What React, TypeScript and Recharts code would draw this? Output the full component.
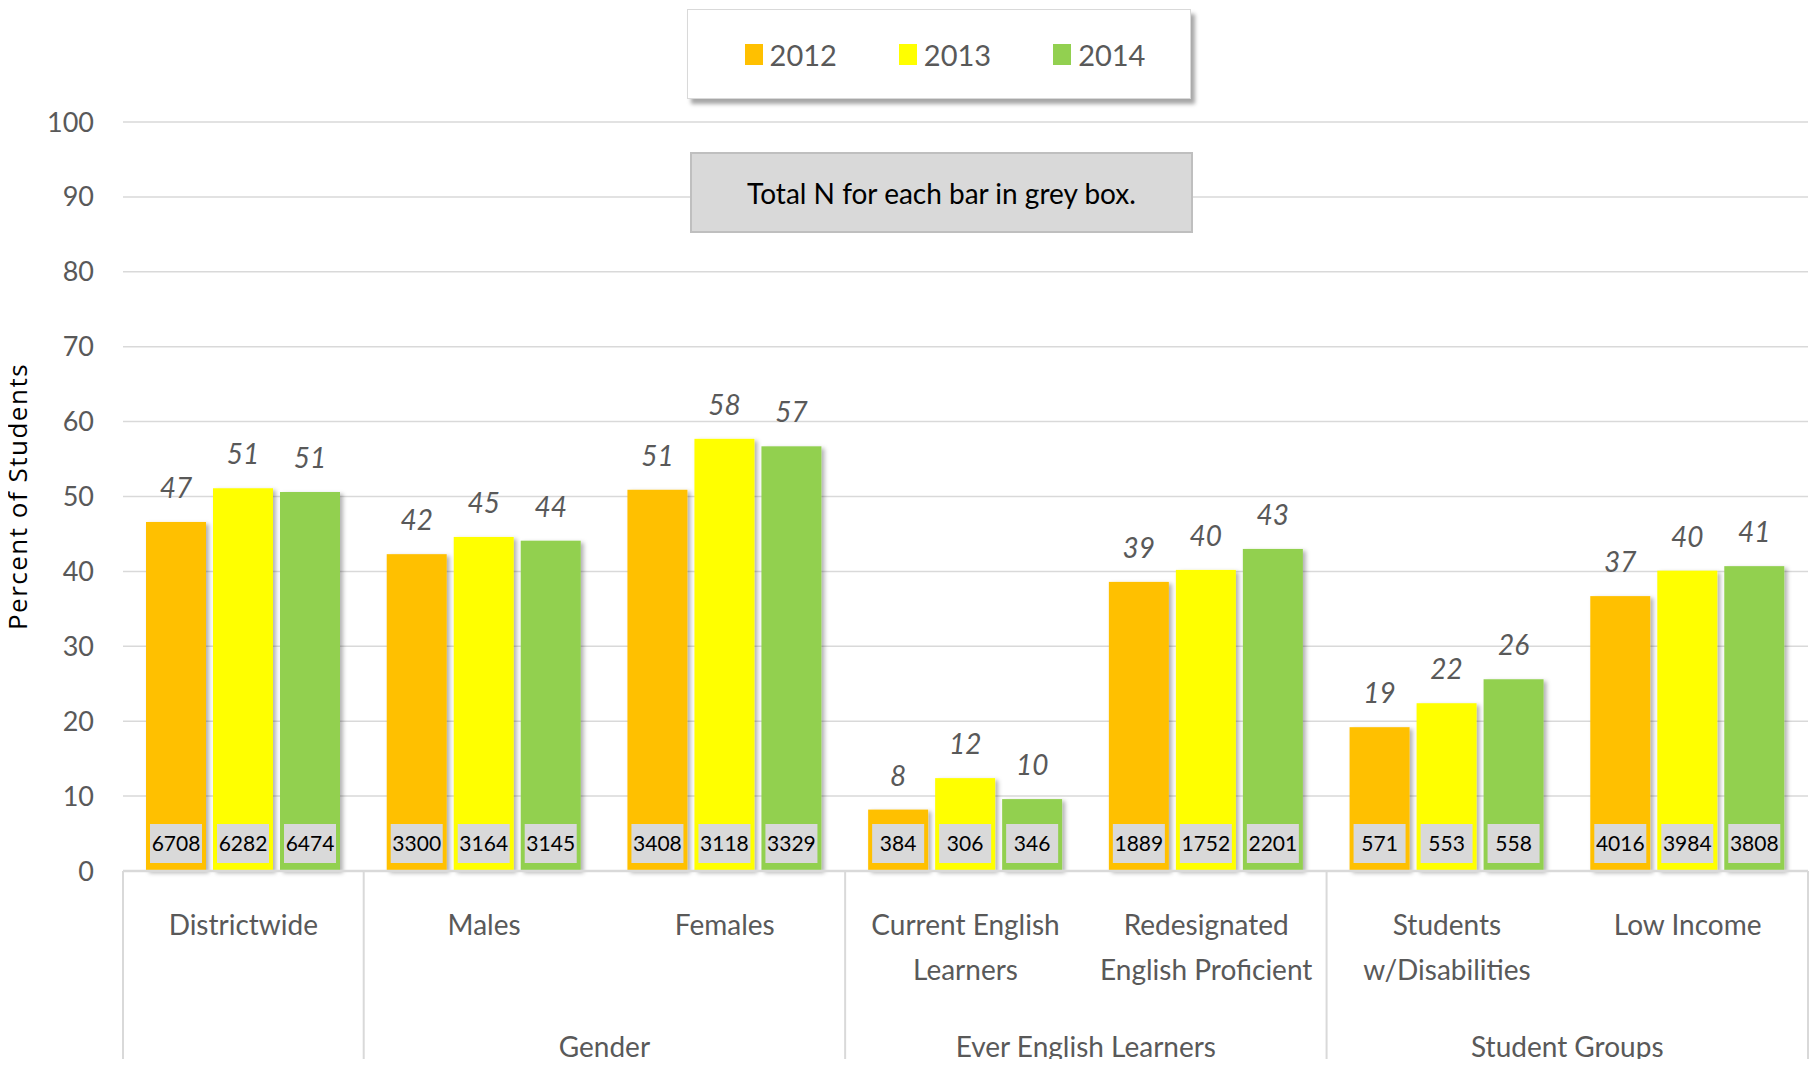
import { BarChart, Bar, XAxis, YAxis, CartesianGrid, LabelList, Legend } from "recharts"

const categories = [
  "Districtwide",
  "Males",
  "Females",
  "Current English Learners",
  "Redesignated English Proficient",
  "Students w/Disabilities",
  "Low Income",
]
const categoryLines = [
  ["Districtwide"],
  ["Males"],
  ["Females"],
  ["Current English", "Learners"],
  ["Redesignated", "English Proficient"],
  ["Students", "w/Disabilities"],
  ["Low Income"],
]
const groups = [
  { label: "", start: 0, span: 1 },
  { label: "Gender", start: 1, span: 2 },
  { label: "Ever English Learners", start: 3, span: 2 },
  { label: "Student Groups", start: 5, span: 2 },
]

const years = ["2012", "2013", "2014"]
const colors = ["#FFC000", "#FFFF00", "#92D050"]

// percent of students (bar heights), labels show rounded values
const pct2012 = [46.6, 42.3, 50.9, 8.2, 38.6, 19.2, 36.7]
const pct2013 = [51.1, 44.6, 57.7, 12.4, 40.2, 22.4, 40.1]
const pct2014 = [50.6, 44.1, 56.7, 9.6, 43.0, 25.6, 40.7]

// total N in the grey boxes
const n2012 = [6708, 3300, 3408, 384, 1889, 571, 4016]
const n2013 = [6282, 3164, 3118, 306, 1752, 553, 3984]
const n2014 = [6474, 3145, 3329, 346, 2201, 558, 3808]

const yTicks = [0, 10, 20, 30, 40, 50, 60, 70, 80, 90, 100]

const FONT = "Lato, 'Noto Sans', sans-serif"
const GREY_TEXT = "#595959"
const LINE = "#D9D9D9"

const W = 1818
const H = 1067
const M = { top: 122, right: 10, bottom: 0, left: 0 }
const Y_AXIS_W = 123
const X_AXIS_H = 196
const BAND = (W - M.left - M.right - Y_AXIS_W) / categories.length

const data = categories.map((name, i) => ({
  name,
  p2012: pct2012[i],
  p2013: pct2013[i],
  p2014: pct2014[i],
  n2012: n2012[i],
  n2013: n2013[i],
  n2014: n2014[i],
}))

function CategoryTick(props: any) {
  const { x, y, index } = props
  const left = x - BAND / 2
  const group = groups.find(g => g.start === index)
  const isLast = index === categories.length - 1
  return (
    <g>
      {group && <line x1={left} x2={left} y1={y} y2={y + X_AXIS_H} stroke={LINE} strokeWidth={2} />}
      {isLast && <line x1={left + BAND} x2={left + BAND} y1={y} y2={y + X_AXIS_H} stroke={LINE} strokeWidth={2} />}
      {categoryLines[index].map((line, k) => (
        <text key={k} x={x} y={y + 64 + k * 45} textAnchor="middle" fill={GREY_TEXT} fontSize={28} fontFamily={FONT}>
          {line}
        </text>
      ))}
      {group && group.label && (
        <text x={left + (group.span * BAND) / 2} y={y + 186} textAnchor="middle" fill={GREY_TEXT} fontSize={28} fontFamily={FONT}>
          {group.label}
        </text>
      )}
    </g>
  )
}

function NBox(props: any) {
  const vb = props.viewBox || props
  const { x, y, width, height } = vb
  const cx = x + width / 2
  const bottom = y + height - 8
  return (
    <g>
      <rect x={cx - 26} y={bottom - 39} width={52} height={39} fill="#D9D9D9" />
      <text x={cx} y={bottom - 19.5} dy="0.36em" textAnchor="middle" fill="#000" fontSize={21} fontFamily={FONT}>
        {props.value}
      </text>
    </g>
  )
}

function ShadowBar(props: any) {
  const { x, y, width, height, fill } = props
  if (!height || height <= 0) return null
  return <rect x={x} y={y} width={width} height={height} fill={fill} filter="url(#barShadow)" />
}

function LegendBox(props: any) {
  const payload = props.payload || []
  return (
    <div
      style={{
        width: "100%",
        height: "100%",
        boxSizing: "border-box",
        background: "#fff",
        border: `1px solid ${LINE}`,
        boxShadow: "4px 5px 4px rgba(0,0,0,0.35)",
        display: "flex",
        alignItems: "center",
        justifyContent: "center",
        gap: 62,
        paddingLeft: 12,
      }}
    >
      {payload.map((p: any) => (
        <div key={p.value} style={{ display: "flex", alignItems: "center", gap: 7 }}>
          <span style={{ width: 18, height: 21, background: p.color, display: "inline-block" }} />
          <span style={{ fontFamily: FONT, fontSize: 29, color: GREY_TEXT, lineHeight: 1 }}>{p.value}</span>
        </div>
      ))}
    </div>
  )
}

export default function App() {
  const keys = ["2012", "2013", "2014"]
  return (
    <div style={{ position: "relative", width: W, height: H, margin: -8, background: "#fff" }}>
      <BarChart width={W} height={H} data={data} margin={M} barCategoryGap={23} barGap={7}>
        <defs>
          <filter id="barShadow" x="-20%" y="-5%" width="150%" height="115%">
            <feDropShadow dx={3} dy={2} stdDeviation={2} floodColor="#000" floodOpacity={0.3} />
          </filter>
        </defs>
        <CartesianGrid vertical={false} stroke={LINE} strokeWidth={1.5} />
        <XAxis
          dataKey="name"
          height={X_AXIS_H}
          interval={0}
          tickLine={false}
          tickSize={0}
          tickMargin={0}
          axisLine={{ stroke: LINE, strokeWidth: 2.5 }}
          tick={<CategoryTick />}
        />
        <YAxis
          width={Y_AXIS_W}
          domain={[0, 100]}
          ticks={yTicks}
          interval={0}
          axisLine={false}
          tickLine={false}
          tickSize={0}
          tickMargin={29}
          tick={{ fill: GREY_TEXT, fontSize: 27, fontFamily: FONT }}
          label={{
            value: "Percent of Students",
            angle: -90,
            position: "insideLeft",
            offset: 18,
            style: { textAnchor: "middle", fontFamily: "'Open Sans', sans-serif", fontSize: 26, letterSpacing: 1.5, fill: "#000" },
          }}
        />
        <Legend
          layout="horizontal"
          verticalAlign="middle"
          align="center"
          content={<LegendBox />}
          wrapperStyle={{ position: "absolute", left: 687, top: 9, width: 504, height: 90 }}
        />
        {keys.map((k, i) => (
          <Bar key={k} dataKey={`p${k}`} name={years[i]} fill={colors[i]} shape={<ShadowBar />} isAnimationActive={false}>
            <LabelList
              dataKey={`p${k}`}
              position="top"
              offset={24}
              formatter={(v: any) => Math.round(Number(v))}
              fill={GREY_TEXT}
              fontSize={28}
              fontStyle="italic"
              fontFamily={FONT}
            />
            <LabelList dataKey={`n${k}`} content={<NBox />} />
          </Bar>
        ))}
      </BarChart>
      <div
        style={{
          position: "absolute",
          left: 690,
          top: 152,
          width: 503,
          height: 81,
          boxSizing: "border-box",
          background: "#D9D9D9",
          border: "2px solid #BFBFBF",
          display: "flex",
          alignItems: "center",
          justifyContent: "center",
          fontFamily: FONT,
          fontSize: 28,
          color: "#000",
        }}
      >
        Total N for each bar in grey box.
      </div>
    </div>
  )
}
